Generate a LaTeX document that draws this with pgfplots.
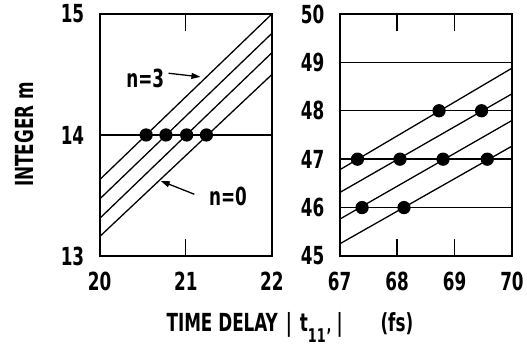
\documentclass[border=0pt]{standalone}
\usepackage{fontspec}
\setmainfont{DejaVu Sans Condensed}[FakeStretch=0.75]
\usepackage{pgfplots}
\pgfplotsset{compat=1.18}
\usetikzlibrary{arrows.meta}
\newcommand{\bigf}{\fontsize{25}{27}\selectfont\bfseries}
\pgfplotsset{panel/.style={
  scale only axis, width=173pt, height=243pt, anchor=south west,
  axis line style={line width=1.8pt},
  tick align=inside, major tick length=17pt,
  tick style={line width=1.4pt, black},
  ytick style={draw=none},
  ymajorgrids, major grid style={line width=1.3pt, black},
  ticklabel style={font=\bigf},
  /pgf/number format/assume math mode=true,
  xticklabel shift=13pt, yticklabel shift=12pt,
  every axis plot/.append style={line width=1.3pt, black},
  clip=true,
}}
\begin{document}
\begin{tikzpicture}[x=1pt,y=1pt]
\path (0,0) rectangle (527,351);
\begin{axis}[panel, at={(100pt,94pt)}, xmin=20, xmax=22, ymin=13, ymax=15,
  xtick={20,21,22}, ytick={13,14,15}]
\addplot[no marks] coordinates {(20,13.63) (22,15.00)};
\addplot[no marks] coordinates {(20,13.47) (22,14.84)};
\addplot[no marks] coordinates {(20,13.31) (22,14.68)};
\addplot[no marks] coordinates {(20,13.16) (22,14.50)};
\addplot[only marks, mark=*, mark size=6pt] coordinates {(20.54,14) (20.77,14) (21.01,14) (21.24,14)};
\node[font=\bigf] at (axis cs:20.53,14.47) {n=3};
\draw[-{Triangle[length=9pt,width=6pt]}, line width=1.3pt] (axis cs:20.80,14.51) -- (axis cs:21.17,14.48);
\node[font=\bigf] at (axis cs:21.49,13.49) {n=0};
\draw[-{Triangle[length=9pt,width=6pt]}, line width=1.3pt] (axis cs:21.10,13.51) -- (axis cs:20.71,13.62);
\end{axis}
\begin{axis}[panel, at={(341pt,94pt)}, xmin=67, xmax=70, ymin=45, ymax=50,
  xtick={67,68,69,70}, ytick={45,46,47,48,49,50}]
\addplot[no marks] coordinates {(67,46.78) (70,48.88)};
\addplot[no marks] coordinates {(67,46.31) (70,48.35)};
\addplot[no marks] coordinates {(67,45.76) (70,47.80)};
\addplot[no marks] coordinates {(67,45.25) (70,47.27)};
\addplot[no marks, line width=2.4pt] coordinates {(67,47) (70,47)};
\addplot[only marks, mark=*, mark size=6pt] coordinates {(67.31,47) (67.39,46) (68.05,47) (68.12,46) (68.73,48) (68.80,47) (69.47,48) (69.57,47)};
\end{axis}
\node[rotate=90, font=\bigf] at (25,216) {INTEGER m};
\node[font=\bigf, anchor=base west, inner sep=0pt] at (167,18) {TIME DELAY\hspace{8pt}|\hspace{8pt}t\raisebox{-11pt}{\fontsize{19}{19}\selectfont\bfseries 11\hspace{1pt}'}\hspace{5pt}|\hspace{38pt}(fs)};
\end{tikzpicture}
\end{document}
